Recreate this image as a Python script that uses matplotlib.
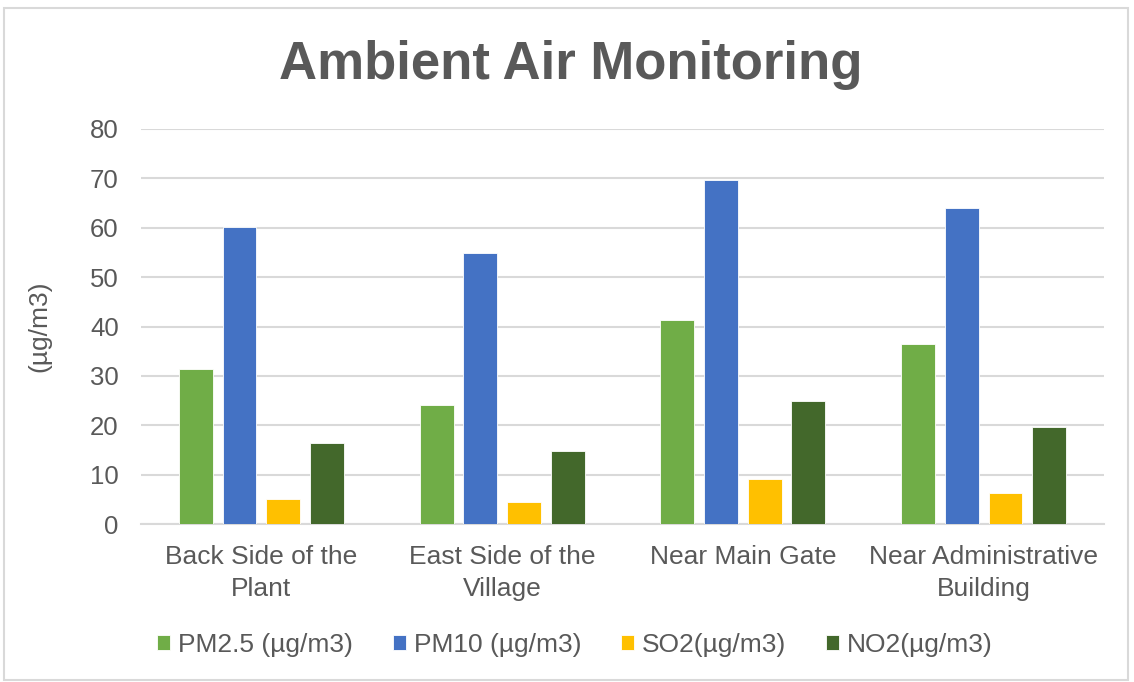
import numpy as np
import matplotlib
matplotlib.use('Agg')
import matplotlib.pyplot as plt
from matplotlib.patches import Rectangle

plt.rcParams['font.family'] = ['Liberation Sans', 'DejaVu Sans']

locations = ['Back Side of the\nPlant', 'East Side of the\nVillage',
             'Near Main Gate', 'Near Administrative\nBuilding']
series = ['PM2.5 (µg/m3)', 'PM10 (µg/m3)', 'SO2(µg/m3)', 'NO2(µg/m3)']
pm25 = [31.3, 24.1, 41.3, 36.4]
pm10 = [60.1, 54.8, 69.6, 64.0]
so2 = [5.1, 4.5, 9.1, 6.3]
no2 = [16.4, 14.8, 25.0, 19.7]
colors = ['#70AD47', '#4472C4', '#FFC000', '#43682B']

grey = '#595959'

fig = plt.figure(figsize=(11.34, 6.82), dpi=100)
ax = fig.add_axes([141/1134, 1-524/682, (1104-141)/1134, (524-129)/682])

# outer chart frame
fig.patches.append(Rectangle((4/1134, 2/682), 1124/1134, 672/682,
                             transform=fig.transFigure, fill=False,
                             edgecolor='#d9d9d9', linewidth=1.5))

x = np.arange(len(locations))
step = 0.1815
width = 0.141
for i, (vals, name) in enumerate(zip([pm25, pm10, so2, no2], series)):
    ax.bar(x + (i - 1.5) * step, vals, width, color=colors[i], label=name,
           edgecolor='white', linewidth=0.6, zorder=3)

ax.set_xlim(-0.5, 3.5)
ax.set_ylim(0, 80)
ax.set_yticks(range(0, 81, 10))
ax.yaxis.grid(True, color='#d9d9d9', linewidth=1.5, zorder=0)
ax.set_axisbelow(True)
for s in ['top', 'right', 'left']:
    ax.spines[s].set_visible(False)
ax.spines['bottom'].set_color('#d9d9d9')
ax.spines['bottom'].set_linewidth(1.5)
ax.tick_params(axis='both', length=0, colors=grey, labelsize=18.5)
ax.tick_params(axis='y', pad=16)
ax.tick_params(axis='x', pad=15, labelsize=19)
ax.set_xticks(x)
ax.set_xticklabels(locations, linespacing=1.45)
ax.set_ylabel('(µg/m3)', color=grey, fontsize=19, labelpad=28)

fig.text(0.503, 1 - 65/682, 'Ambient Air Monitoring', ha='center', va='center',
         fontsize=38, fontweight='bold', color=grey)

leg = fig.legend(loc='center', bbox_to_anchor=(0.507, 1 - 645/682), ncol=4,
                 frameon=False, fontsize=19, handlelength=0.5,
                 handleheight=0.5, handletextpad=0.3, columnspacing=1.5,
                 labelcolor=grey)

plt.savefig('out.png', dpi=100)
